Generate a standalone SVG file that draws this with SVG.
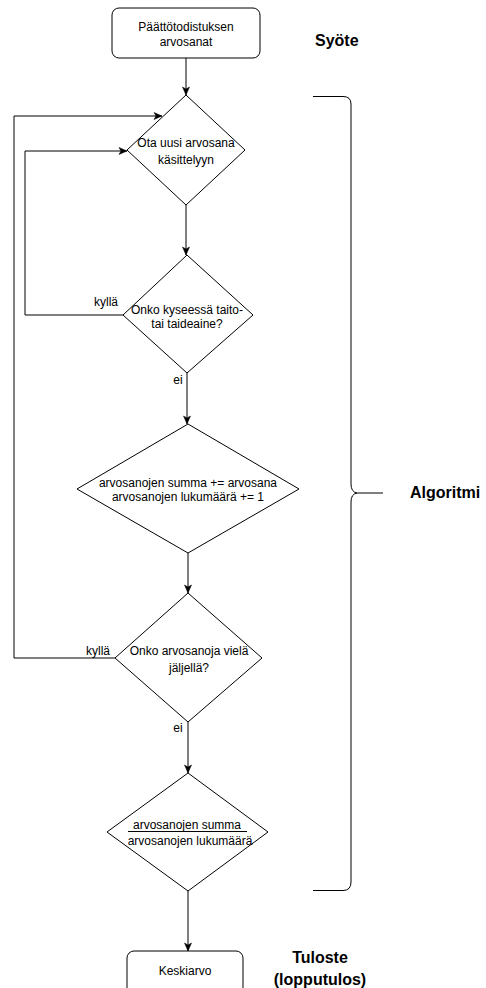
<svg xmlns="http://www.w3.org/2000/svg" width="486" height="988" viewBox="0 0 486 988">
<style>
.n{fill:#fff;stroke:#000;stroke-width:1}
.t{font-family:"Liberation Sans",Arial,sans-serif;font-size:12px;fill:#000;text-anchor:middle}
.b{font-family:"Liberation Sans",Arial,sans-serif;font-size:16px;font-weight:bold;fill:#000}
.c{fill:none;stroke:#000;stroke-width:1}
</style>
<defs>
<marker id="a" markerUnits="userSpaceOnUse" markerWidth="10" markerHeight="10" viewBox="0 0 10 10" refX="9" refY="5" orient="auto">
<path d="M1,1.5 L9,5 L1,8.5 L3,5 Z" fill="#000" stroke="#000" stroke-width="0.5"/>
</marker>
</defs>
<rect width="486" height="988" fill="#fff"/>
<g id="connectors">
<path class="c" d="M186,58 V95" marker-end="url(#a)"/>
<path class="c" d="M186,205 V255" marker-end="url(#a)"/>
<path class="c" d="M187,373 V424" marker-end="url(#a)"/>
<path class="c" d="M188,553 V593" marker-end="url(#a)"/>
<path class="c" d="M188,722 V773" marker-end="url(#a)"/>
<path class="c" d="M188,891 V951" marker-end="url(#a)"/>
<path class="c" d="M123,315 H25 V151 H127" marker-end="url(#a)"/>
<path class="c" d="M115,658 H14 V116 H162" marker-end="url(#a)"/>
<text class="t" x="106" y="306">kyllä</text>
<text class="t" x="178" y="384">ei</text>
<text class="t" x="98" y="655">kyllä</text>
<text class="t" x="178" y="732">ei</text>
</g>
<g id="input">
<rect class="n" x="112" y="8" width="148" height="50" rx="7"/>
<text class="t" x="186" y="31">Päättötodistuksen</text>
<text class="t" x="186" y="46">arvosanat</text>
</g>
<g id="take">
<path class="n" d="M186,95 L245,150 L186,205 L127,150 Z"/>
<text class="t" x="186" y="147">Ota uusi arvosana</text>
<text class="t" x="186" y="164">käsittelyyn</text>
</g>
<g id="check-art">
<path class="n" d="M187,255 L253,315 L187,373 L123,315 Z"/>
<text class="t" x="187" y="314">Onko kyseessä taito-</text>
<text class="t" x="187" y="328">tai taideaine?</text>
</g>
<g id="accumulate">
<path class="n" d="M188,424 L299,489 L188,553 L77,489 Z"/>
<text class="t" x="188" y="487">arvosanojen summa += arvosana</text>
<text class="t" x="188" y="501">arvosanojen lukumäärä += 1</text>
</g>
<g id="more">
<path class="n" d="M188,593 L262,658 L188,722 L115,658 Z"/>
<text class="t" x="189" y="655">Onko arvosanoja vielä</text>
<text class="t" x="189" y="672">jäljellä?</text>
</g>
<g id="divide">
<path class="n" d="M188,773 L268,832 L188,891 L107,832 Z"/>
<text class="t" x="187" y="829">arvosanojen summa</text>
<line x1="128" y1="831.5" x2="247" y2="831.5" stroke="#000" stroke-width="1"/>
<text class="t" x="190" y="845">arvosanojen lukumäärä</text>
</g>
<g id="output">
<rect class="n" x="127" y="951" width="116" height="50" rx="7"/>
<text class="t" x="185" y="975">Keskiarvo</text>
</g>
<g id="brace">
<path class="c" d="M313,96.5 H343 Q351,96.5 351,104 V484 Q351,492 357,493 Q351,494 351,502 V882 Q351,890.5 343,890.5 H313"/>
<line x1="357" y1="493" x2="383" y2="493" stroke="#000" stroke-width="1"/>
</g>
<g id="labels">
<text class="b" x="315" y="46">Syöte</text>
<text class="b" x="410" y="498">Algoritmi</text>
<text class="b" x="320" y="963" text-anchor="middle">Tuloste</text>
<text class="b" x="320" y="985" text-anchor="middle">(lopputulos)</text>
</g>
</svg>
